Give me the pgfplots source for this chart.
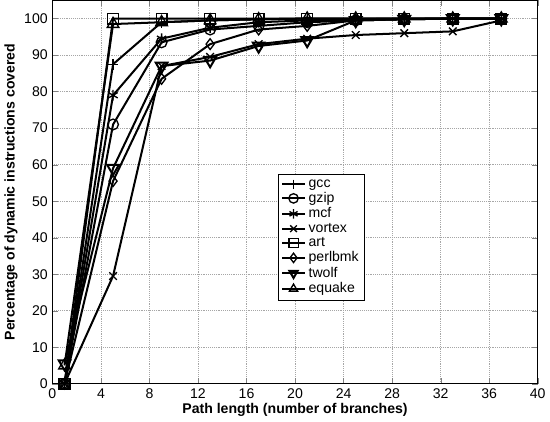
\documentclass[border=0pt]{standalone}
\usepackage{fontspec}
\setmainfont{Liberation Sans}
\usepackage{pgfplots}
\pgfplotsset{compat=1.18}

\begin{document}
\begin{tikzpicture}
\begin{axis}[
  scale only axis,
  width=362pt,height=286pt,
  xmin=0,xmax=40,ymin=0,ymax=105,
  xtick={0,4,...,40},ytick={0,10,...,100},
  xlabel={\bfseries Path length (number of branches)},
  ylabel={\bfseries Percentage of dynamic instructions covered},
  label style={font=\fontsize{10.5}{12}\selectfont},
  tick label style={font=\fontsize{10.5}{12}\selectfont},
  /pgf/number format/assume math mode=true,
  xlabel style={yshift=3pt},
  ylabel style={yshift=-2pt},
  grid=major,grid style={gray!70,densely dotted,line width=0.4pt},
  tick align=inside,tick pos=both,
  major tick length=4pt,
  axis line style={line width=0.5pt},
  every axis plot/.append style={black,line width=1.5pt,mark size=4pt,mark options={solid,line width=1pt,fill=none}},
  legend style={at={(axis cs:18.6,57.5)},anchor=north west,draw=black,line width=0.5pt,
    font=\fontsize{10.5}{11.5}\selectfont,row sep=-1.6pt,inner sep=2pt},
  legend image post style={mark size=3.5pt},
  legend cell align=left,
]
% gcc
\addplot[mark=+] coordinates {(1,0) (5,87.5) (9,99) (13,99.5) (17,99.8) (21,100) (25,100) (29,100) (33,100) (37,100)};
\addlegendentry{gcc}
% gzip
\addplot[mark=o] coordinates {(1,0) (5,71) (9,93.5) (13,97) (17,98) (21,99) (25,99.5) (29,99.8) (33,100) (37,100)};
\addlegendentry{gzip}
% mcf
\addplot[mark=asterisk] coordinates {(1,0) (5,79) (9,94.5) (13,97.5) (17,99) (21,99.5) (25,99.8) (29,100) (33,100) (37,100)};
\addlegendentry{mcf}
% vortex
\addplot[mark=x] coordinates {(1,0) (5,29.5) (9,87) (13,89.5) (17,93) (21,94.5) (25,95.5) (29,96) (33,96.5) (37,99.5)};
\addlegendentry{vortex}
% art
\addplot[mark=square] coordinates {(1,0) (5,100) (9,100) (13,100) (17,100) (21,100) (25,100) (29,100) (33,100) (37,100)};
\addlegendentry{art}
% perlbmk
\addplot[mark=diamond] coordinates {(1,0) (5,55.5) (9,83.5) (13,93) (17,97) (21,98) (25,99.5) (29,99.8) (33,100) (37,100)};
\addlegendentry{perlbmk}
% twolf
\addplot[mark=triangle,mark size=5pt,mark options={rotate=180}] coordinates {(1,5.5) (5,59) (9,87) (13,88.5) (17,92.5) (21,94) (25,99.5) (29,99.8) (33,100) (37,100)};
\addlegendentry{twolf}
% equake
\addplot[mark=triangle,mark size=5pt] coordinates {(1,5) (5,98.5) (9,99) (13,99.5) (17,99.8) (21,100) (25,100) (29,100) (33,100) (37,100)};
\addlegendentry{equake}
\end{axis}
\end{tikzpicture}
\end{document}
